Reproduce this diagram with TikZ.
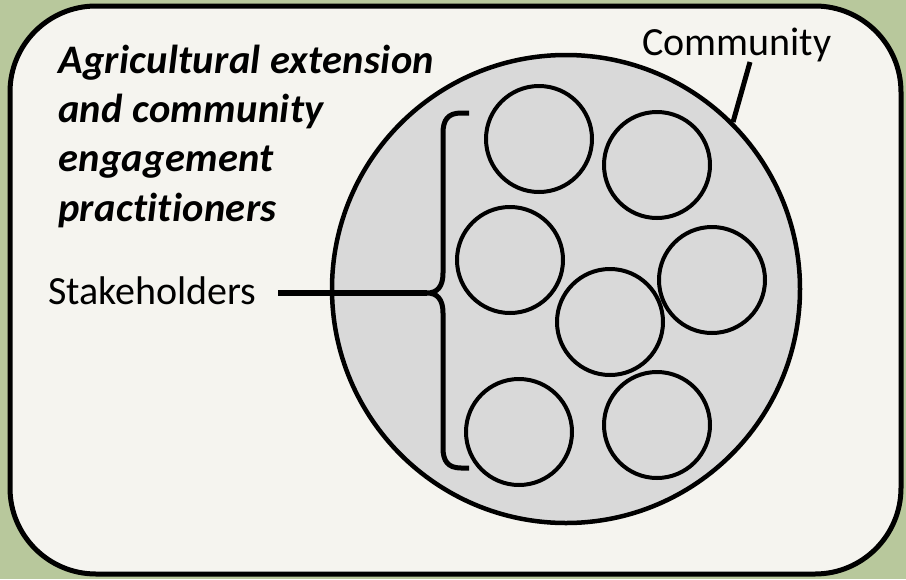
\documentclass[tikz,border=0pt]{standalone}
\usepackage{fontspec}
\setmainfont{Carlito}[Ligatures=NoCommon]
\definecolor{bggreen}{HTML}{B8C89C}
\definecolor{boxfill}{HTML}{F5F4EF}
\definecolor{circfill}{HTML}{D9D9D9}
\begin{document}
\begin{tikzpicture}[x=1pt,y=-1pt,
  frame/.style={draw=black,line width=5pt,fill=boxfill,rounded corners=86pt},
  community/.style={circle,draw=black,line width=4.5pt,fill=circfill,minimum size=468pt,inner sep=0pt},
  member/.style={circle,draw=black,line width=4pt,fill=circfill,minimum size=106pt,inner sep=0pt},
  lbl/.style={inner sep=0pt,font=\fontsize{40}{48}\selectfont},
  conn/.style={line width=5pt},
  brace/.style={line width=5pt}]
\fill[bggreen] (0,0) rectangle (906,579);
\useasboundingbox (0,0) rectangle (906,579);
\draw[frame] (10,6) rectangle (901,574);
% community
\node[community] (comm) at (566,289) {};
\node[member] (s1) at (539,139) {};
\node[member] (s2) at (657,165) {};
\node[member] (s3) at (510,260) {};
\node[member] (s4) at (712,280) {};
\node[member] (s5) at (610,322) {};
\node[member] (s6) at (519,432) {};
\node[member] (s7) at (657,425) {};
% labels
\node[lbl,anchor=base west] (commlbl) at (642,55) {Community};
\node[lbl,anchor=base west] (stake) at (48,304) {Stakeholders};
\node[inner sep=0pt,anchor=base west,align=left,
  font=\fontsize{40.5}{49.3}\selectfont\bfseries\itshape\addfontfeatures{LetterSpace=0.8}] (title) at (58,221)
  {Agricultural extension\\and community\\engagement\\practitioners};
% community connector
\coordinate (ctop) at (750,62);
\draw[conn] (comm.45) -- (ctop);
% brace
\coordinate (tip) at (427,293);
\coordinate (bt) at (469,113);
\coordinate (bb) at (469,468);
\draw[brace,line join=round] (bt) -- (461,113) .. controls (448,113) and (443,120) .. (443,133)
  -- (443,273) .. controls (443,287) and (437,293) .. (tip)
  .. controls (437,293) and (443,299) .. (443,313)
  -- (443,448) .. controls (443,461) and (448,468) .. (461,468) -- (bb);
% stakeholders connector
\coordinate (sline) at (278,293);
\draw[line width=6pt] (sline) -- (tip);
\end{tikzpicture}
\end{document}
